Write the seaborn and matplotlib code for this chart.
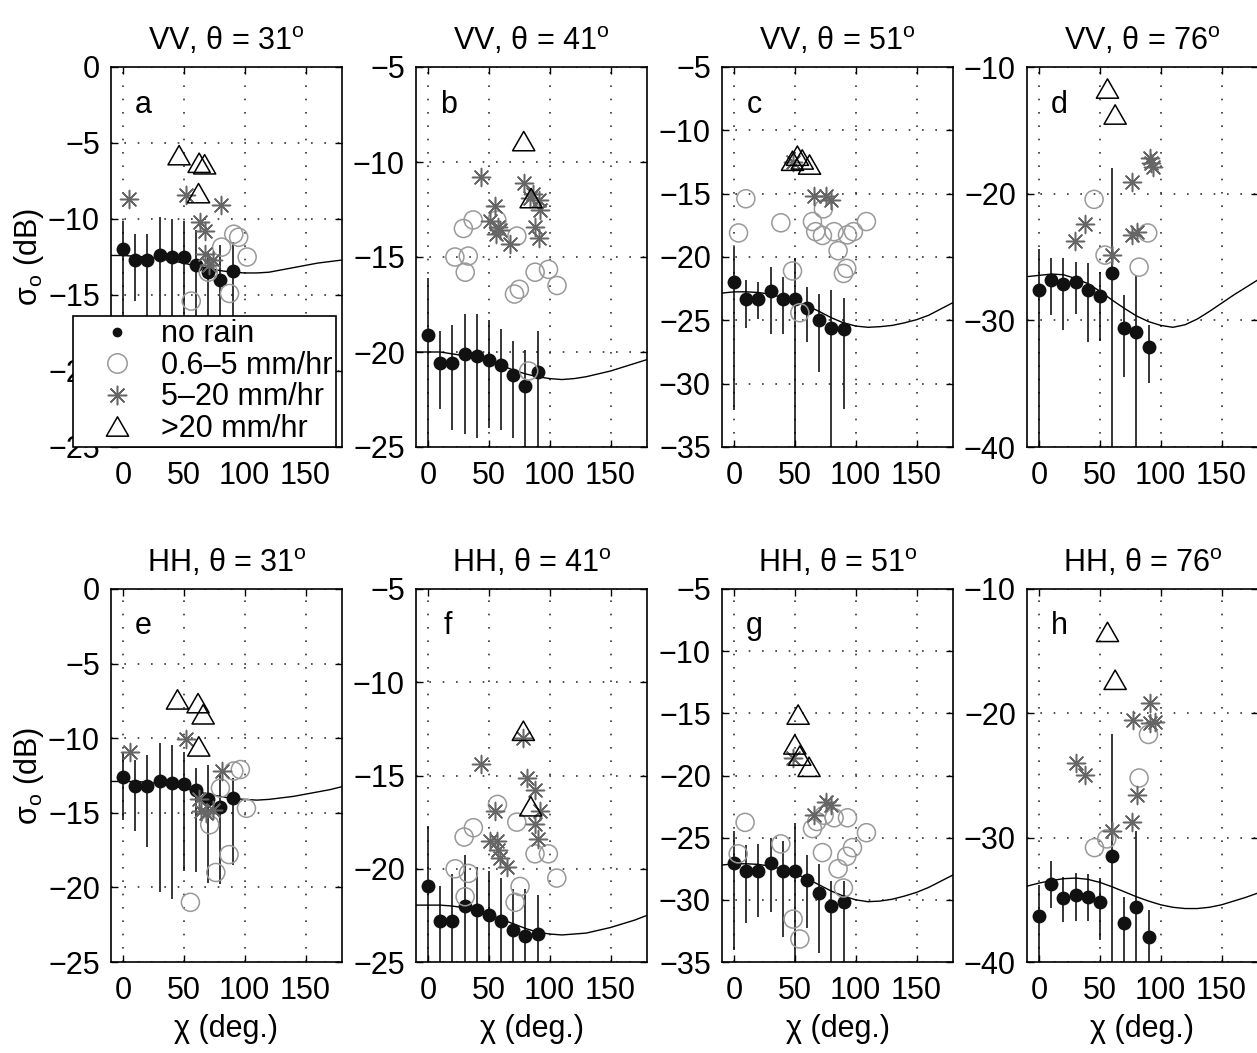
import numpy as np
import pandas as pd
import matplotlib
matplotlib.use("Agg")
import matplotlib.pyplot as plt
from matplotlib.lines import Line2D
from matplotlib.path import Path
import seaborn as sns

# ---------------- data ----------------
chi = [0, 10, 20, 30, 40, 50, 60, 70, 80, 90]
model_chi = [-10, 0, 10, 20, 30, 40, 50, 60, 70, 80, 90, 100, 110, 120, 130, 140, 150, 160, 170, 180]

# panel a : VV 31
a_mean = [-12.0, -12.7, -12.7, -12.4, -12.5, -12.5, -13.0, -13.5, -14.0, -13.4]
a_lo = [-17.0, -15.4, -16.5, -18.5, -19.0, -18.0, -18.0, -18.5, -18.5, -17.5]
a_hi = [-10.1, -11.0, -11.0, -9.9, -10.0, -10.1, -10.7, -12.2, -11.7, -11.5]
a_model = [-12.4, -12.4, -12.45, -12.5, -12.6, -12.75, -12.9, -13.1, -13.25, -13.4,
           -13.5, -13.55, -13.55, -13.5, -13.35, -13.2, -13.05, -12.9, -12.8, -12.7]
a_circ_x = [81, 91, 95, 102, 87.5, 56, 70]
a_circ_y = [-11.85, -11.0, -11.2, -12.5, -14.9, -15.4, -13.5]
a_star_x = [5, 52, 80.5, 63, 67, 67, 74, 71]
a_star_y = [-8.7, -8.4, -9.1, -10.2, -10.8, -12.3, -12.7, -13.0]
a_tri_x = [46, 62.5, 67, 62]
a_tri_y = [-5.8, -6.3, -6.4, -8.3]

# panel b : VV 41
b_mean = [-19.1, -20.6, -20.6, -20.1, -20.2, -20.4, -20.7, -21.2, -21.8, -21.05]
b_lo = [-27.0, -23.0, -24.1, -24.3, -24.5, -24.0, -24.1, -24.5, -25.5, -26.0]
b_hi = [-16.1, -18.9, -18.6, -18.0, -18.0, -18.3, -18.8, -19.4, -19.9, -18.9]
b_model = [-20.0, -20.0, -20.0, -20.1, -20.2, -20.35, -20.5, -20.7, -20.95, -21.15,
           -21.3, -21.4, -21.45, -21.4, -21.3, -21.15, -21.0, -20.8, -20.6, -20.4]
b_circ_x = [29, 37, 22, 33, 30.5, 56.5, 73, 88, 99, 106, 75, 71, 82.7]
b_circ_y = [-13.5, -13.05, -15.0, -14.95, -15.8, -13.05, -13.9, -15.8, -15.65, -16.5, -16.7, -16.95, -21.0]
b_star_x = [43.7, 78.6, 86, 91, 92.3, 88.2, 91, 55.2, 51, 57.1, 59.4, 56.1, 67, 84]
b_star_y = [-10.8, -11.1, -11.7, -12.0, -12.5, -13.4, -14.0, -12.3, -13.1, -13.4, -13.6, -13.8, -14.3, -11.9]
b_tri_x = [78.6, 84.7]
b_tri_y = [-8.9, -11.9]

# panel c : VV 51
c_mean = [-22.0, -23.3, -23.3, -22.7, -23.3, -23.3, -24.0, -25.0, -25.6, -25.7]
c_lo = [-32.1, -25.6, -24.9, -26.1, -26.1, -36.0, -26.7, -29.1, -36.0, -32.0]
c_hi = [-19.2, -21.8, -22.0, -20.8, -21.6, -20.1, -22.4, -22.9, -22.6, -23.2]
c_model = [-22.85, -22.75, -22.75, -22.8, -22.95, -23.2, -23.5, -23.85, -24.3, -24.8,
           -25.2, -25.45, -25.55, -25.5, -25.4, -25.2, -24.95, -24.6, -24.1, -23.6]
c_circ_x = [9.6, 3.6, 38.4, 73.4, 64.4, 67.1, 72.6, 82.2, 93.2, 98.1, 108.8, 85.5, 92.6, 89.9, 48, 54]
c_circ_y = [-15.4, -18.1, -17.3, -16.2, -17.2, -18.0, -18.3, -18.0, -18.25, -18.0, -17.2, -19.5, -20.9, -21.3, -21.1, -24.4]
c_star_x = [48, 65.7, 75.6, 79.7]
c_star_y = [-12.5, -15.2, -15.2, -15.5]
c_tri_x = [48, 52, 56, 62]
c_tri_y = [-12.4, -12.0, -12.3, -12.7]

# panel d : VV 76
d_mean = [-27.6, -26.8, -27.15, -27.0, -27.6, -28.1, -26.3, -30.6, -30.9, -32.1]
d_lo = [-41.0, -29.6, -30.75, -29.5, -31.7, -31.6, -41.0, -34.5, -41.0, -34.95]
d_hi = [-24.4, -25.05, -25.1, -25.4, -25.5, -26.2, -18.0, -28.0, -26.5, -30.4]
d_model = [-26.55, -26.45, -26.35, -26.4, -26.7, -27.1, -27.7, -28.4, -29.05, -29.65,
           -30.1, -30.4, -30.55, -30.35, -29.9, -29.3, -28.65, -28.0, -27.4, -26.8]
d_circ_x = [45.2, 89.3, 54.2, 82.2]
d_circ_y = [-20.45, -23.1, -24.85, -25.8]
d_star_x = [29.6, 37.8, 60.3, 76.2, 91.2, 93.4, 92, 76.2, 80.8]
d_star_y = [-23.7, -22.4, -24.85, -19.1, -17.15, -17.9, -17.6, -23.3, -23.0]
d_tri_x = [56.2, 62.5]
d_tri_y = [-11.7, -13.75]

# panel e : HH 31
e_mean = [-12.6, -13.2, -13.2, -12.9, -13.0, -13.1, -13.5, -14.1, -14.6, -14.0]
e_lo = [-15.5, -16.25, -17.3, -20.3, -20.8, -18.9, -19.0, -19.7, -19.8, -18.5]
e_hi = [-10.9, -11.45, -11.1, -10.3, -10.45, -10.9, -12.0, -11.8, -12.45, -12.7]
e_model = [-12.9, -12.9, -12.9, -12.95, -13.05, -13.2, -13.35, -13.55, -13.75, -13.9,
           -14.05, -14.1, -14.15, -14.1, -14.0, -13.9, -13.75, -13.6, -13.45, -13.25]
e_circ_x = [91, 96.4, 80, 101.4, 71.2, 87.1, 76.2, 55.3]
e_circ_y = [-12.2, -12.1, -13.35, -14.7, -15.8, -17.8, -19.0, -21.0]
e_star_x = [5.5, 52, 81.6, 62.5, 64.4, 68.5, 74]
e_star_y = [-10.9, -10.05, -12.2, -14.1, -14.9, -15.0, -14.8]
e_tri_x = [44.7, 61.6, 65.8, 62.2]
e_tri_y = [-7.4, -7.65, -8.4, -10.55]

# panel f : HH 41
f_mean = [-20.9, -22.8, -22.8, -22.0, -22.2, -22.5, -22.8, -23.3, -23.6, -23.5]
f_lo = [-26.0, -26.0, -26.0, -26.0, -26.0, -26.0, -26.0, -26.0, -26.0, -26.0]
f_hi = [-17.7, -20.9, -20.3, -19.25, -19.9, -20.1, -20.5, -21.1, -21.1, -21.4]
f_model = [-21.95, -21.95, -21.95, -22.0, -22.1, -22.25, -22.45, -22.7, -22.95, -23.2,
           -23.4, -23.5, -23.55, -23.5, -23.45, -23.3, -23.15, -22.95, -22.75, -22.5]
f_circ_x = [57, 37.2, 29.6, 72.9, 22.2, 33.1, 30.4, 87.9, 98.9, 105.8, 75.6, 71.5]
f_circ_y = [-16.55, -17.8, -18.3, -17.5, -20.0, -20.25, -21.5, -19.2, -19.2, -20.5, -20.95, -21.8]
f_star_x = [43.5, 78.3, 81.6, 87.9, 92, 87.9, 90.6, 55, 50.9, 56.4, 57.8, 59.2, 65.2]
f_star_y = [-14.4, -13.0, -15.15, -15.8, -16.9, -17.6, -18.4, -16.9, -18.5, -18.5, -19.0, -19.4, -19.9]
f_tri_x = [78.3, 84.4]
f_tri_y = [-12.6, -16.65]

# panel g : HH 51
g_mean = [-27.05, -27.7, -27.65, -27.0, -27.7, -27.65, -28.4, -29.45, -30.5, -30.2]
g_lo = [-34.0, -31.9, -31.4, -31.0, -33.0, -36.0, -32.3, -34.3, -36.0, -36.0]
g_hi = [-24.5, -25.6, -25.5, -25.0, -25.3, -23.8, -26.4, -27.1, -28.5, -28.5]
g_model = [-27.2, -27.1, -27.1, -27.15, -27.3, -27.55, -27.9, -28.3, -28.8, -29.3,
           -29.7, -30.0, -30.15, -30.1, -29.95, -29.7, -29.4, -29.0, -28.5, -28.0]
g_circ_x = [9.0, 3.3, 38.4, 64.4, 68, 74, 82.2, 93.2, 108.8, 97.3, 92.6, 72.6, 85.5, 89.9, 48.5, 54]
g_circ_y = [-23.77, -26.3, -25.5, -24.27, -23.7, -23.2, -23.4, -23.4, -24.6, -25.8, -26.5, -26.2, -27.5, -29.05, -31.55, -33.15]
g_star_x = [48, 65.8, 75.3, 79.5]
g_star_y = [-18.6, -23.2, -22.1, -22.4]
g_tri_x = [52.6, 49.9, 54, 61.6]
g_tri_y = [-15.1, -17.5, -18.4, -19.3]

# panel h : HH 76
h_mean = [-36.3, -33.7, -34.85, -34.6, -34.8, -35.2, -31.45, -36.9, -35.6, -37.95]
h_lo = [-41.0, -35.65, -36.8, -36.7, -36.7, -38.2, -41.0, -41.0, -41.0, -41.0]
h_hi = [-33.8, -31.85, -33.2, -32.85, -32.9, -33.25, -21.7, -34.8, -29.5, -35.8]
h_model = [-33.9, -33.65, -33.45, -33.3, -33.25, -33.35, -33.6, -33.95, -34.35, -34.75,
           -35.1, -35.4, -35.6, -35.7, -35.7, -35.6, -35.4, -35.1, -34.8, -34.45]
h_circ_x = [89.9, 82.2, 45.5, 55.6]
h_circ_y = [-21.7, -25.2, -30.8, -30.1]
h_star_x = [30.1, 37.8, 91.2, 77, 91.2, 95.3, 80.8, 76.2, 60.3]
h_star_y = [-24.0, -24.95, -19.2, -20.5, -20.8, -20.7, -26.6, -28.7, -29.5]
h_tri_x = [56.2, 62.5]
h_tri_y = [-13.45, -17.3]

pols = ["VV", "VV", "VV", "VV", "HH", "HH", "HH", "HH"]
angles = [31, 41, 51, 76, 31, 41, 51, 76]
letters = ["a", "b", "c", "d", "e", "f", "g", "h"]
ylims = [(-25, 0), (-25, -5), (-35, -5), (-40, -10)] * 2
ysteps = [5, 5, 5, 10] * 2
xticks = [0, 50, 100, 150]
legend_labels = ["no rain", "0.6\u20135 mm/hr", "5\u201320 mm/hr", ">20 mm/hr"]

panels = [
    (a_mean, a_lo, a_hi, a_model, a_circ_x, a_circ_y, a_star_x, a_star_y, a_tri_x, a_tri_y),
    (b_mean, b_lo, b_hi, b_model, b_circ_x, b_circ_y, b_star_x, b_star_y, b_tri_x, b_tri_y),
    (c_mean, c_lo, c_hi, c_model, c_circ_x, c_circ_y, c_star_x, c_star_y, c_tri_x, c_tri_y),
    (d_mean, d_lo, d_hi, d_model, d_circ_x, d_circ_y, d_star_x, d_star_y, d_tri_x, d_tri_y),
    (e_mean, e_lo, e_hi, e_model, e_circ_x, e_circ_y, e_star_x, e_star_y, e_tri_x, e_tri_y),
    (f_mean, f_lo, f_hi, f_model, f_circ_x, f_circ_y, f_star_x, f_star_y, f_tri_x, f_tri_y),
    (g_mean, g_lo, g_hi, g_model, g_circ_x, g_circ_y, g_star_x, g_star_y, g_tri_x, g_tri_y),
    (h_mean, h_lo, h_hi, h_model, h_circ_x, h_circ_y, h_star_x, h_star_y, h_tri_x, h_tri_y),
]

# ---------------- style ----------------
sns.set_style("ticks")
plt.rcParams["font.family"] = ["Liberation Sans", "DejaVu Sans"]
plt.rcParams["mathtext.fontset"] = "custom"
plt.rcParams["mathtext.rm"] = "Liberation Sans"
plt.rcParams["mathtext.it"] = "Liberation Sans:italic"
plt.rcParams["mathtext.bf"] = "Liberation Sans:bold"
plt.rcParams["axes.unicode_minus"] = True
for k in ["text.color", "axes.labelcolor", "xtick.color", "ytick.color", "axes.edgecolor"]:
    plt.rcParams[k] = "black"

FS = 22
TRI = Path([(0, 0.87), (-1, -0.87), (1, -0.87), (0, 0.87)], closed=True)
STAR = (8, 2, 0)
DOT_C = "#111111"
CIRC_C = "0.6"
STAR_C = "0.4"

W, H = 1257, 1053
fig = plt.figure(figsize=(W / 100, H / 100), dpi=100)
col_left = [111, 416, 722, 1027]
ax_w = 231
rows = [(67, 447), (589, 962)]

for i, p in enumerate(panels):
    mean, lo, hi, model, cx, cy, sx, sy, tx, ty = p
    r, c = divmod(i, 4)
    top, bot = rows[r]
    ax = fig.add_axes([col_left[c] / W, 1 - bot / H, ax_w / W, (bot - top) / H])

    ax.vlines(chi, lo, hi, color="k", lw=1.1, zorder=2)
    sns.lineplot(x=model_chi, y=model, ax=ax, color="k", lw=1.0, zorder=2, sort=False)
    sns.scatterplot(x=chi, y=mean, ax=ax, marker="o", s=10 ** 2, color=DOT_C,
                    edgecolor=DOT_C, linewidth=0, zorder=3, legend=False)
    sns.scatterplot(x=cx, y=cy, ax=ax, marker="o", s=13 ** 2, facecolors="none",
                    edgecolor=CIRC_C, linewidth=1.1, zorder=4, legend=False)
    sns.scatterplot(x=sx, y=sy, ax=ax, marker=STAR, s=13 ** 2, color=STAR_C,
                    linewidth=1.1, zorder=5, legend=False)
    sns.scatterplot(x=tx, y=ty, ax=ax, marker=TRI, s=16 ** 2, facecolors="none",
                    edgecolor="k", linewidth=1.1, zorder=6, legend=False)

    y0, y1 = ylims[i]
    ax.set_xlim(-10, 180)
    ax.set_ylim(y0, y1)
    ax.set_xticks(xticks)
    ax.set_yticks(np.arange(y0, y1 + 0.1, ysteps[i]))
    ax.tick_params(direction="in", length=5, width=1, top=True, right=True,
                   labelsize=FS, colors="black")
    ax.tick_params(axis="x", pad=10)
    ax.tick_params(axis="y", pad=8)
    ax.grid(True, linestyle=(0, (1, 7)), linewidth=1.2, color="0.2")
    ax.set_axisbelow(True)
    for s in ax.spines.values():
        s.set_linewidth(1.2)
        s.set_color("k")
    ax.set_title(f"{pols[i]}, \u03b8 = {angles[i]}$^\\mathrm{{o}}$", fontsize=FS, pad=12)
    ax.text(0.139, 0.90, letters[i], transform=ax.transAxes, fontsize=FS,
            ha="center", va="center")
    ax.set_xlabel("\u03c7 (deg.)" if r == 1 else "", fontsize=FS, labelpad=6)
    ax.set_ylabel("\u03c3$_\\mathrm{o}$ (dB)" if c == 0 else "", fontsize=FS, labelpad=1)

    if i == 0:
        handles = [
            Line2D([], [], ls="none", marker="o", ms=6, color=DOT_C),
            Line2D([], [], ls="none", marker="o", ms=14, mfc="none", mec=CIRC_C, mew=1.1),
            Line2D([], [], ls="none", marker=STAR, ms=14, color=STAR_C, mew=1.1),
            Line2D([], [], ls="none", marker=TRI, ms=16, mfc="none", mec="k", mew=1.1),
        ]
        leg = ax.legend(handles, legend_labels, loc="lower left",
                        bbox_to_anchor=(-0.165, 0.0), borderaxespad=0, fontsize=22,
                        frameon=True, fancybox=False, edgecolor="k", framealpha=1,
                        borderpad=0.1, labelspacing=0.05, handlelength=2.7,
                        handletextpad=0.1)
        leg.get_frame().set_linewidth(1.2)
        leg.set_zorder(20)

fig.savefig("out.png", dpi=100)
